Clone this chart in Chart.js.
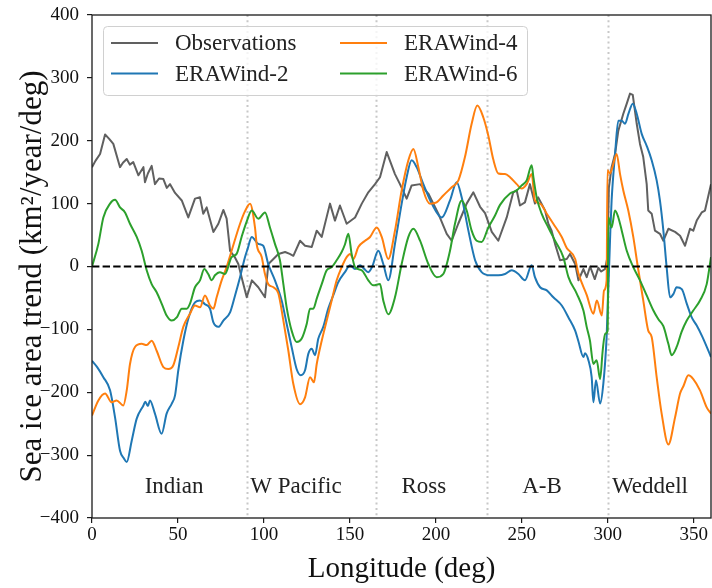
<!DOCTYPE html>
<html>
<head>
<meta charset="utf-8">
<script src="https://cdn.jsdelivr.net/npm/chart.js@4.4.1/dist/chart.umd.min.js"></script>
<style>
  html, body { margin: 0; padding: 0; background: #ffffff; }
  #wrap { width: 712px; height: 588px; }
</style>
</head>
<body>
<div id="wrap"><canvas id="c" width="712" height="588"></canvas></div>
<script>
// ---------------- data ----------------
const seriesNames = ["Observations", "ERAWind-2", "ERAWind-4", "ERAWind-6"];
const xTitle = "Longitude (deg)";
const yTitle = "Sea ice area trend (km\u00B2/year/deg)";

const obsLon = [0,2,4.7,7.6,10,12.4,16.3,18,20.2,22,24,27,29.9,30.8,32.5,34.7,36.6,39,41.5,43.5,45.4,48.3,52.2,56,59.9,62.8,64.7,66.7,70.6,73.5,76.4,78.3,80.3,83,85.1,87,90,93,96.7,100.6,102.6,105.5,108.4,112.3,115,117.1,121,123.9,127.8,130.7,133.6,138.4,141.3,144.2,148.1,153,156.9,160.7,164.6,167.5,171.4,176.2,179.1,183,185.9,190.8,195.6,201.4,206.3,209.2,213,217.9,221.8,225.7,228.6,232.5,236.3,241.2,245,247,248.9,251.8,254.7,257.6,259.5,263.5,265.4,267.3,269.3,272.2,276.1,278,281,282.9,285.8,287.7,289.7,292.4,294.5,296,298.4,299.8,300.6,302.2,304.2,306.1,309,311,312.9,314.5,316.8,318.7,320.6,322.6,323.5,325.5,327.4,330.3,332.3,335.2,339.1,342,344.9,347.8,349.7,351.7,354.6,356.5,360];
const obsVal = [158,168,179,210,203,195,158,165,171,162,166,145,158,134,148,160,131,140,139,125,131,117,105,78,108,110,84,94,55,68,90,76,25,15,4,-17,-49,-22,-33,-49,4,12,20,23,20,17,41,33,31,57,47,100,73,97,68,78,100,118,131,142,182,147,131,108,129,131,116,84,52,41,68,100,118,95,85,55,41,78,118,121,97,102,131,100,110,89,68,57,36,10,12,20,4,-22,-4,-17,0,-20,-2,-8,-4,15,125,158,179,216,243,259,275,273,227,195,174,131,89,84,57,52,41,60,55,49,33,60,57,73,86,89,131];

const w2Lon = [0,3,6.6,10.5,13.4,16.3,18.5,20.2,23.1,26,29.9,31,32.5,33.7,36.6,40.5,43.4,46.4,48.3,50.2,53.1,56,59.9,62.8,65.7,68.6,70.6,73.5,76.4,80.3,83.2,86.1,89,90.5,92.9,96.7,99.6,102.5,106.4,110.3,113.2,116.1,119,121.4,123.9,125.8,127.8,129.7,131.6,134.5,137.4,140.3,143.2,147.1,150.1,153,155.9,158,160.7,163,166.5,169.4,172.3,176.2,180.1,183,185.9,188.8,192.7,197.6,203.4,208.2,212.1,215,218.9,222.8,226.6,231.5,236.3,240.2,244.1,248,251.8,255.7,257.6,260.6,264.5,268.3,273.2,277.1,281,282.8,285.8,286.7,288.7,290.6,291.6,293.1,295.5,297.4,299.3,301.5,302.2,304.2,306.1,308.1,310,312,314.5,316.8,319.7,322.6,325.5,328.4,330.3,332.3,334.2,336.2,338.1,340,343,345.9,348.8,351.7,355,360];
const w2Val = [-150,-160,-176,-197,-240,-293,-305,-311,-277,-242,-221,-215,-222,-213,-234,-266,-234,-218,-205,-165,-118,-83,-57,-54,-60,-67,-89,-96,-86,-73,-46,-17,15,28,47,36,33,4,-22,-54,-91,-128,-163,-173,-165,-139,-131,-141,-115,-96,-67,-46,-25,-9,2,-4,2,-3,-9,0,25,4,-22,36,100,142,169,158,131,100,78,105,134,110,57,10,-9,-14,-14,-12,-6,-12,-22,2,-17,-33,-38,-49,-62,-81,-102,-118,-144,-138,-149,-176,-216,-181,-218,-186,-112,60,105,179,232,232,227,243,259,243,211,192,169,137,105,57,-1,-49,-44,-33,-36,-59,-81,-94,-112,-144];

const w4Lon = [0,3.7,7.6,11.4,14.3,18.2,20.2,22.1,25,28.9,31.8,34.7,37.6,41.5,44.4,47.3,50.2,53.1,57,59.9,62.8,65.7,68.6,70.6,72.5,75.4,78.3,81.2,86.1,89,91.9,94.8,95.8,98.7,100.6,102.5,105.5,108.4,111.3,114.2,117.1,121,123.9,126.8,129.1,130.7,133.6,136.5,139.4,142.3,145.2,148.1,150.1,152,154.9,158.8,161.7,165.6,168.5,172.3,176.2,180.1,184,186.9,189.8,192.7,196.6,200.4,204.3,209.2,213.1,216.9,220.8,224.1,227.6,230.5,233.4,236.3,240.2,243.1,247,249.9,252.8,255.7,257.6,260.6,264.5,268.3,273.2,276,281,282.8,287.7,291.6,293.6,296.5,297.8,299.3,299.8,301.2,302.7,305.1,307.1,309,311.9,314.8,317.3,320.6,323.5,325.5,328.4,331.3,335.2,339.1,342,344,346.8,349.7,353.6,357.5,360];
const w4Val = [-237,-213,-202,-216,-213,-221,-197,-155,-128,-123,-125,-118,-134,-160,-163,-157,-128,-96,-75,-62,-65,-46,-62,-67,-49,-22,-1,25,68,88,100,62,35,15,-12,-28,-33,-43,-86,-134,-187,-219,-208,-176,-184,-155,-118,-86,-54,-22,-1,15,20,12,31,41,47,62,47,12,57,121,169,187,158,121,100,102,113,126,137,174,227,256,237,208,170,148,147,142,131,124,131,147,105,100,84,68,47,30,12,-10,-45,-75,-54,-78,-38,-22,153,148,158,179,147,121,89,47,2,-54,-102,-112,-176,-234,-283,-240,-202,-190,-173,-179,-197,-224,-234];

const w6Lon = [0,3.7,6.6,10.5,13.4,16.3,19.2,22.1,26,28.9,31.8,34.7,37.6,40.5,43.4,46.4,49.3,52.2,55.1,57,59.9,62.8,65.3,67.6,69.6,71.5,74.4,77.3,81.2,84.1,87,89.9,92.9,96.7,100.6,103.5,106.4,109.3,111.3,113.2,116.1,119,121.9,124.9,126.8,128.7,130.7,133.6,136.5,139.4,142.3,145.2,147.1,149.1,151,153,156.9,160.7,163.6,167.5,169.4,172.3,176.2,180.1,184,186.9,190.8,195.6,200.5,204.3,208.2,211.1,215,217.9,220.8,223.7,226.6,230.5,234.4,237.3,243.1,247,249.9,252.8,255.7,256.7,258.6,261.5,265.4,269.3,274.1,277.1,281.9,285.8,287.7,289.6,291.6,293.5,295.5,297,298.4,299.9,300.3,302.2,304.2,306.1,308.1,311,314.8,318.7,322.6,326.5,329.4,332.3,335.2,337.1,340,342.9,345.9,349.7,353.6,357.5,360];
const w6Val = [0,36,78,100,106,94,86,68,47,25,-6,-28,-41,-59,-78,-86,-81,-67,-67,-59,-33,-22,-4,-12,-22,-14,-9,-12,15,20,47,71,89,76,86,62,36,10,-28,-65,-102,-120,-115,-91,-67,-67,-51,-28,-6,-1,10,23,35,52,20,-1,-6,-22,-30,-28,-54,-76,-49,4,47,60,41,4,-17,-12,25,68,105,89,57,41,39,62,81,98,116,121,129,137,161,142,110,84,62,41,15,-17,-43,-70,-96,-118,-155,-149,-179,-134,-107,-102,78,62,89,78,57,25,-1,-22,-46,-70,-84,-95,-123,-141,-128,-104,-86,-70,-54,-28,15];

const regionBounds = [90, 165, 230, 300];
const regionNames = ["Indian", "W Pacific", "Ross", "A-B", "Weddell"];
const regionCenters = [47.7, 118.6, 193, 261.7, 324.5];
const regionLabelY = -350;

const xTicks = [0, 50, 100, 150, 200, 250, 300, 350];
const yTicks = [-400, -300, -200, -100, 0, 100, 200, 300, 400];

// ---------------- helpers ----------------
const zip = (xs, ys) => xs.map((x, i) => ({ x: x, y: ys[i] }));
const SERIF = "'Liberation Serif', 'DejaVu Serif', serif";
const colors = ["#606060", "#1f77b4", "#ff7f0e", "#2ca02c"];
const minus = v => String(v).replace('-', '\u2212');

const datasets = [
  { label: "", isZero: true, data: [{x: 0, y: 0}, {x: 360, y: 0}], borderColor: "#000000",
    borderWidth: 2, borderDash: [7.4, 3.2], order: 0 },
  { label: seriesNames[3], data: zip(w6Lon, w6Val), borderColor: colors[3], borderWidth: 2, order: 1, cubicInterpolationMode: 'monotone' },
  { label: seriesNames[2], data: zip(w4Lon, w4Val), borderColor: colors[2], borderWidth: 2, order: 2, cubicInterpolationMode: 'monotone' },
  { label: seriesNames[1], data: zip(w2Lon, w2Val), borderColor: colors[1], borderWidth: 2, order: 3, cubicInterpolationMode: 'monotone' },
  { label: seriesNames[0], data: zip(obsLon, obsVal), borderColor: colors[0], borderWidth: 2, order: 4 }
];

// vertical dotted region separators + region names
const regionPlugin = {
  id: 'regions',
  beforeDatasetsDraw(chart) {
    const { ctx, chartArea, scales } = chart;
    ctx.save();
    ctx.strokeStyle = '#c8c8c8';
    ctx.lineWidth = 2;
    ctx.setLineDash([2, 3.3]);
    regionBounds.forEach(b => {
      const x = Math.round(scales.x.getPixelForValue(b)) + 0.5;
      ctx.beginPath();
      ctx.moveTo(x, chartArea.top);
      ctx.lineTo(x, chartArea.bottom);
      ctx.stroke();
    });
    ctx.setLineDash([]);
    ctx.fillStyle = '#222222';
    ctx.font = "23px " + SERIF;
    ctx.textAlign = 'center';
    ctx.textBaseline = 'middle';
    regionNames.forEach((n, i) => {
      ctx.fillText(n, scales.x.getPixelForValue(regionCenters[i]), scales.y.getPixelForValue(regionLabelY));
    });
    ctx.restore();
  }
};

// legend box inside the axes (upper left, 2 columns)
const legendPlugin = {
  id: 'boxLegend',
  afterDatasetsDraw(chart) {
    const { ctx, chartArea } = chart;
    const items = chart.data.datasets.filter(d => !d.isZero)
      .sort((a, b) => seriesNames.indexOf(a.label) - seriesNames.indexOf(b.label));
    const bx = chartArea.left + 11.5, by = chartArea.top + 11.5, bw = 424, bh = 69, r = 4;
    ctx.save();
    ctx.beginPath();
    ctx.moveTo(bx + r, by);
    ctx.lineTo(bx + bw - r, by);
    ctx.quadraticCurveTo(bx + bw, by, bx + bw, by + r);
    ctx.lineTo(bx + bw, by + bh - r);
    ctx.quadraticCurveTo(bx + bw, by + bh, bx + bw - r, by + bh);
    ctx.lineTo(bx + r, by + bh);
    ctx.quadraticCurveTo(bx, by + bh, bx, by + bh - r);
    ctx.lineTo(bx, by + r);
    ctx.quadraticCurveTo(bx, by, bx + r, by);
    ctx.closePath();
    ctx.fillStyle = 'rgba(255,255,255,0.8)';
    ctx.fill();
    ctx.strokeStyle = '#d0d0d0';
    ctx.lineWidth = 1;
    ctx.stroke();
    ctx.font = "23px " + SERIF;
    ctx.textBaseline = 'middle';
    ctx.textAlign = 'left';
    const colX = [chartArea.left + 19, chartArea.left + 248];
    const rowY = [chartArea.top + 28, chartArea.top + 58.5];
    items.forEach((d, i) => {
      const col = Math.floor(i / 2), row = i % 2;
      const x = colX[col], y = rowY[row];
      ctx.strokeStyle = d.borderColor;
      ctx.lineWidth = 2.2;
      ctx.beginPath();
      ctx.moveTo(x, y);
      ctx.lineTo(x + 47, y);
      ctx.stroke();
      ctx.fillStyle = '#222222';
      ctx.fillText(d.label, x + 64, y + 1);
    });
    ctx.restore();
  }
};

// axes frame (all four spines) + axis titles
const framePlugin = {
  id: 'frame',
  afterDraw(chart) {
    const { ctx, chartArea } = chart;
    ctx.save();
    ctx.strokeStyle = '#1a1a1a';
    ctx.lineWidth = 1.3;
    ctx.strokeRect(chartArea.left, chartArea.top, chartArea.right - chartArea.left, chartArea.bottom - chartArea.top);
    ctx.fillStyle = '#111111';
    ctx.textAlign = 'center';
    ctx.textBaseline = 'alphabetic';
    ctx.font = "29px " + SERIF;
    ctx.fillText(xTitle, (chartArea.left + chartArea.right) / 2, chart.height - 11);
    ctx.translate(40.5, (chartArea.top + chartArea.bottom) / 2 + 10);
    ctx.rotate(-Math.PI / 2);
    ctx.font = "31px " + SERIF;
    ctx.fillText(yTitle, 0, 0);
    ctx.restore();
  }
};

new Chart(document.getElementById('c'), {
  type: 'line',
  data: { datasets: datasets },
  options: {
    responsive: false,
    animation: false,
    events: [],
    layout: { padding: { left: 0, right: 1, top: 15, bottom: 0 } },
    elements: { point: { radius: 0 }, line: { tension: 0, fill: false, borderCapStyle: 'butt', borderJoinStyle: 'round' } },
    plugins: { legend: { display: false }, tooltip: { enabled: false } },
    scales: {
      x: {
        type: 'linear', min: 0, max: 360,
        afterBuildTicks: s => { s.ticks = xTicks.map(v => ({ value: v })); },
        afterFit: s => { s.height = 70; s.paddingLeft = 0; s.paddingRight = 0; },
        ticks: { includeBounds: false, autoSkip: false, maxRotation: 0, padding: 1, color: '#111111',
                 font: { family: SERIF, size: 19 }, callback: v => minus(v) },
        grid: { drawOnChartArea: false, drawTicks: true, tickLength: 5, color: '#1a1a1a', lineWidth: 1.2 },
        border: { display: false },
        title: { display: false }
      },
      y: {
        type: 'linear', min: -400, max: 400,
        afterBuildTicks: s => { s.ticks = yTicks.map(v => ({ value: v })); },
        afterFit: s => { s.width = 92; s.paddingTop = 0; s.paddingBottom = 0; },
        ticks: { autoSkip: false, padding: 8, color: '#111111',
                 font: { family: SERIF, size: 19 }, callback: v => minus(v) },
        grid: { drawOnChartArea: false, drawTicks: true, tickLength: 5, color: '#1a1a1a', lineWidth: 1.2 },
        border: { display: false },
        title: { display: false }
      }
    }
  },
  plugins: [regionPlugin, legendPlugin, framePlugin]
});
</script>
</body>
</html>
